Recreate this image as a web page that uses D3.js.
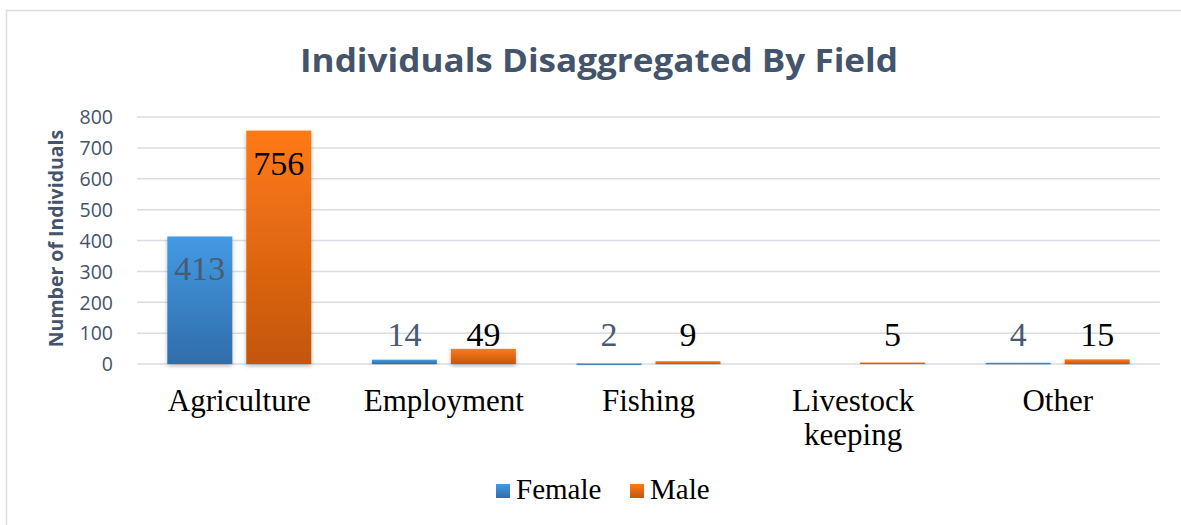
<!DOCTYPE html>
<html>
<head>
<meta charset="utf-8">
<script src="https://cdn.jsdelivr.net/npm/d3@7"></script>
<style>
  html, body { margin: 0; padding: 0; background: #fff; }
  svg { display: block; }
</style>
</head>
<body>
<svg id="chart" width="1181" height="525"></svg>
<script>
// Chart data
const categories = ["Agriculture", "Employment", "Fishing", "Livestock\nkeeping", "Other"];
const seriesNames = ["Female", "Male"];
const femaleValues = [413, 14, 2, null, 4];
const maleValues = [756, 49, 9, 5, 15];
const yTicks = [0, 100, 200, 300, 400, 500, 600, 700, 800];

const W = 1181, H = 525;
const svg = d3.select("#chart");
const margin = { left: 137, right: 21, top: 117, bottom: 161 };
const serif = "'Liberation Serif', 'Times New Roman', serif";
const sans = "'Open Sans', sans-serif";

const x0 = d3.scaleBand().domain(categories).range([margin.left, W - margin.right]);
const x1 = d3.scaleBand().domain(seriesNames).range([0, x0.bandwidth()]).paddingInner(0.177).paddingOuter(0.384);
const y = d3.scaleLinear().domain([0, 800]).range([H - margin.bottom, margin.top]);

const defs = svg.append("defs");
function grad(id, top, bottom) {
  const g = defs.append("linearGradient").attr("id", id).attr("x1", 0).attr("y1", 0).attr("x2", 0).attr("y2", 1);
  g.append("stop").attr("offset", "0%").attr("stop-color", top);
  g.append("stop").attr("offset", "100%").attr("stop-color", bottom);
}
grad("gFemale", "#449AE3", "#2F6DAA");
grad("gMale", "#FF7A15", "#C3560E");
const shadow = defs.append("filter").attr("id", "shadow").attr("x", "-20%").attr("y", "-20%").attr("width", "140%").attr("height", "140%");
shadow.append("feGaussianBlur").attr("in", "SourceAlpha").attr("stdDeviation", 2.2).attr("result", "b");
shadow.append("feOffset").attr("in", "b").attr("dx", 0).attr("dy", 1.5).attr("result", "o");
shadow.append("feComponentTransfer").attr("in", "o").attr("result", "s")
  .append("feFuncA").attr("type", "linear").attr("slope", 0.28);
const m = shadow.append("feMerge");
m.append("feMergeNode").attr("in", "s");
m.append("feMergeNode").attr("in", "SourceGraphic");

// Outer chart frame
svg.append("rect").attr("x", 6.5).attr("y", 10.5).attr("width", W + 10).attr("height", H + 10)
  .attr("fill", "#fff").attr("stroke", "#D9DCE1").attr("stroke-width", 1.5);

// Title
svg.append("text").attr("x", 599).attr("y", 72).attr("text-anchor", "middle")
  .attr("font-family", sans).attr("font-weight", 700).attr("font-size", 33)
  .attr("textLength", 598).attr("lengthAdjust", "spacingAndGlyphs")
  .attr("fill", "#44546A").text("Individuals Disaggregated By Field");

// Gridlines
svg.append("g").selectAll("line").data(yTicks).join("line")
  .attr("x1", margin.left).attr("x2", W - margin.right)
  .attr("y1", d => y(d)).attr("y2", d => y(d))
  .attr("stroke", "#D9DDE3").attr("stroke-width", 1.5);

// Y axis labels
const yAxis = svg.append("g").attr("transform", `translate(${margin.left - 24},0)`)
  .call(d3.axisLeft(y).tickValues(yTicks).tickSize(0).tickPadding(0));
yAxis.select(".domain").remove();
yAxis.selectAll("text").attr("font-family", sans).attr("font-size", 19.5)
  .attr("fill", "#44546A").attr("dy", "0.35em");

// Y axis title
svg.append("text").attr("transform", `translate(63,${y(400) - 2}) rotate(-90)`)
  .attr("text-anchor", "middle").attr("font-family", sans)
  .attr("font-weight", 700).attr("font-size", 19.5).attr("fill", "#44546A").text("Number of Individuals");

// Bars
const rows = categories.map((c, i) => ({ cat: c, vals: [
  { s: "Female", v: femaleValues[i] }, { s: "Male", v: maleValues[i] } ] }));
const groups = svg.append("g").selectAll("g").data(rows).join("g")
  .attr("transform", d => `translate(${x0(d.cat)},0)`);
groups.selectAll("rect").data(d => d.vals.filter(v => v.v != null)).join("rect")
  .attr("x", d => x1(d.s)).attr("width", x1.bandwidth())
  .attr("y", d => y(d.v)).attr("height", d => Math.max(1.5, y(0) - y(d.v)))
  .attr("fill", d => d.s === "Female" ? "url(#gFemale)" : "url(#gMale)")
  .attr("filter", "url(#shadow)");

// Value labels: inside the top of tall bars, above short bars
groups.selectAll("text.val").data(d => d.vals.filter(v => v.v != null)).join("text")
  .attr("class", "val")
  .attr("x", d => x1(d.s) + x1.bandwidth() / 2)
  .attr("y", d => d.v > 100 ? y(d.v) + 44 : Math.min(y(d.v) - 3, y(0) - 18))
  .attr("text-anchor", "middle")
  .attr("font-family", serif).attr("font-size", 34)
  .attr("fill", d => d.s === "Female" ? "#4A5A70" : "#000")
  .text(d => d.v);

// Category labels (multi-line names split on "\n")
const catLabels = svg.append("g").selectAll("text").data(categories).join("text")
  .attr("x", d => x0(d) + x0.bandwidth() / 2).attr("y", 411)
  .attr("text-anchor", "middle").attr("font-family", serif)
  .attr("font-size", 31).attr("fill", "#000");
catLabels.each(function(d) {
  const t = d3.select(this);
  d.split("\n").forEach((line, i) => {
    t.append("tspan").attr("x", t.attr("x")).attr("dy", i === 0 ? 0 : 34).text(line);
  });
});

// Legend
const legend = svg.append("g");
const legendItems = [{ s: "Female", x: 496, fill: "url(#gFemale)" }, { s: "Male", x: 630, fill: "url(#gMale)" }];
legendItems.forEach(it => {
  legend.append("rect").attr("x", it.x).attr("y", 484).attr("width", 14).attr("height", 14).attr("fill", it.fill);
  legend.append("text").attr("x", it.x + 20).attr("y", 499)
    .attr("font-family", serif).attr("font-size", 29).attr("fill", "#000").text(it.s);
});
</script>
</body>
</html>
